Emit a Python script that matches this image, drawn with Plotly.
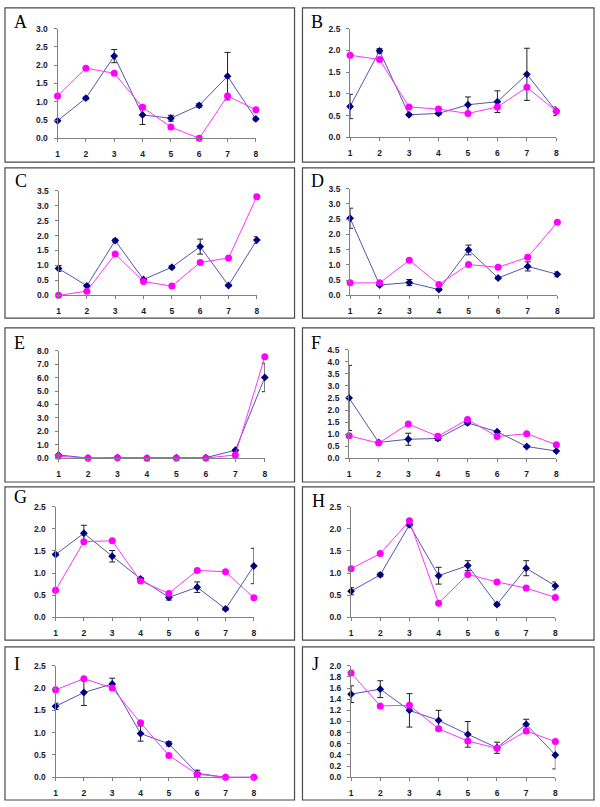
import plotly.graph_objects as go

W, H = 600, 807
categories = [1, 2, 3, 4, 5, 6, 7, 8]
panel_labels = ["A", "B", "C", "D", "E", "F", "G", "H", "I", "J"]

blue_A = [0.48, 1.10, 2.25, 0.64, 0.55, 0.90, 1.70, 0.53]
blue_A_err = [0.02, 0.03, 0.18, 0.26, 0.08, 0.05, 0.65, 0.05]
pink_A = [1.16, 1.92, 1.78, 0.85, 0.31, 0.0, 1.16, 0.78]

blue_B = [0.71, 1.99, 0.52, 0.55, 0.75, 0.82, 1.45, 0.60]
blue_B_err = [0.28, 0.05, 0.02, 0.03, 0.18, 0.25, 0.60, 0.10]
pink_B = [1.89, 1.79, 0.70, 0.65, 0.55, 0.70, 1.15, 0.60]

blue_C = [0.90, 0.32, 1.83, 0.53, 0.94, 1.63, 0.33, 1.85]
blue_C_err = [0.10, 0.03, 0.05, 0.03, 0.05, 0.25, 0.03, 0.11]
pink_C = [0.0, 0.14, 1.38, 0.46, 0.31, 1.10, 1.25, 3.30]

blue_D = [2.53, 0.34, 0.42, 0.19, 1.49, 0.57, 0.95, 0.69]
blue_D_err = [0.33, 0.03, 0.10, 0.03, 0.16, 0.03, 0.15, 0.08]
pink_D = [0.41, 0.41, 1.15, 0.36, 1.01, 0.92, 1.25, 2.40]

blue_E = [0.25, 0.02, 0.05, 0.02, 0.04, 0.05, 0.60, 6.01]
blue_E_err = [0.05, 0.01, 0.01, 0.01, 0.01, 0.01, 0.05, 1.06]
pink_E = [0.15, 0.02, 0.04, 0.01, 0.03, 0.02, 0.25, 7.55]

blue_F = [2.50, 0.66, 0.79, 0.82, 1.47, 1.10, 0.49, 0.30]
blue_F_err = [1.35, 0.03, 0.25, 0.08, 0.08, 0.03, 0.03, 0.03]
pink_F = [0.93, 0.63, 1.42, 0.91, 1.61, 0.90, 1.02, 0.56]

blue_G = [1.42, 1.90, 1.38, 0.87, 0.45, 0.68, 0.19, 1.16]
blue_G_err = [0.03, 0.18, 0.13, 0.03, 0.06, 0.12, 0.03, 0.40]
pink_G = [0.61, 1.71, 1.73, 0.82, 0.54, 1.06, 1.03, 0.44]

blue_H = [0.59, 0.96, 2.09, 0.94, 1.17, 0.29, 1.11, 0.71]
blue_H_err = [0.08, 0.04, 0.03, 0.19, 0.11, 0.03, 0.17, 0.09]
pink_H = [1.10, 1.44, 2.18, 0.32, 0.97, 0.80, 0.66, 0.45]

blue_I = [1.59, 1.90, 2.09, 0.98, 0.75, 0.09, 0.0, 0.0]
blue_I_err = [0.07, 0.29, 0.13, 0.17, 0.05, 0.07, 0.0, 0.0]
pink_I = [1.96, 2.21, 2.00, 1.22, 0.49, 0.07, 0.0, 0.0]

blue_J = [1.49, 1.58, 1.20, 1.02, 0.77, 0.53, 0.95, 0.40]
blue_J_err = [0.15, 0.15, 0.30, 0.18, 0.23, 0.10, 0.09, 0.25]
pink_J = [1.87, 1.28, 1.29, 0.87, 0.65, 0.52, 0.83, 0.64]

blue_series = [blue_A, blue_B, blue_C, blue_D, blue_E, blue_F, blue_G, blue_H, blue_I, blue_J]
blue_errors = [blue_A_err, blue_B_err, blue_C_err, blue_D_err, blue_E_err,
               blue_F_err, blue_G_err, blue_H_err, blue_I_err, blue_J_err]
pink_series = [pink_A, pink_B, pink_C, pink_D, pink_E, pink_F, pink_G, pink_H, pink_I, pink_J]
y_max = [3.0, 2.5, 3.5, 3.5, 8.0, 4.5, 2.5, 2.5, 2.5, 2.0]
y_step = [0.5, 0.5, 0.5, 0.5, 1.0, 0.5, 0.5, 0.5, 0.5, 0.2]

# plot-area pixel geometry (x0, x1, ytop, ybottom)
areas = [
    (56, 256, 24, 135), (351, 559, 24, 134),
    (57, 257, 188, 294), (351, 560, 186, 294),
    (57, 265, 350, 459), (350, 559, 349, 459),
    (54, 254, 508, 620), (352, 558, 508, 620),
    (54, 254, 669, 782), (352, 558, 669, 782),
]
# frame boxes
row_y = [(3, 159), (165, 317), (327, 483), (488, 643), (650, 805)]
col_x = [(3, 295), (303, 597)]
# letter centres
letter_pos = [(19, 17), (318, 17), (19, 178), (318, 178), (18, 342), (317, 342),
              (19, 498), (319, 502), (15, 667), (316, 667)]

fig = go.Figure()
tickfont = dict(family="Liberation Sans", size=8.5, color="#1a1a2e", weight="bold")
layout = dict(width=W, height=H, margin=dict(l=0, r=0, t=0, b=0),
              paper_bgcolor="white", plot_bgcolor="white", showlegend=False)
shapes, annotations = [], []

for i in range(10):
    n = "" if i == 0 else str(i + 1)
    x0, x1, yt, yb = areas[i]
    xa = dict(domain=[x0 / W, x1 / W], range=[1, 8], tickmode="array",
              tickvals=categories, ticktext=[str(c) for c in categories],
              showgrid=False, zeroline=False, showline=True, linecolor="#808080",
              linewidth=1, ticks="outside", ticklen=3, tickcolor="#808080",
              tickfont=tickfont, ticklabelstandoff=4, anchor="y" + n, fixedrange=True)
    ya = dict(domain=[1 - yb / H, 1 - yt / H], range=[0, y_max[i]], dtick=y_step[i],
              tick0=0, tickformat=".1f", showgrid=False, zeroline=False,
              showline=True, linecolor="#808080", linewidth=1, ticks="outside",
              ticklen=3, tickcolor="#808080", tickfont=tickfont, ticklabelstandoff=4,
              anchor="x" + n, fixedrange=True)
    layout["xaxis" + n] = xa
    layout["yaxis" + n] = ya
    fig.add_trace(go.Scatter(
        x=categories, y=blue_series[i], xaxis="x" + n, yaxis="y" + n,
        mode="lines+markers", cliponaxis=False,
        line=dict(color="#5555aa", width=1),
        marker=dict(symbol="diamond", size=6, color="#000080"),
        error_y=dict(type="data", array=blue_errors[i], visible=True,
                     color="#222222", thickness=1, width=3)))
    fig.add_trace(go.Scatter(
        x=categories, y=pink_series[i], xaxis="x" + n, yaxis="y" + n,
        mode="lines+markers", cliponaxis=False,
        line=dict(color="#ff33ff", width=1),
        marker=dict(symbol="circle", size=7, color="#ff00ff")))
    r, c = divmod(i, 2)
    bx0, bx1 = col_x[c]
    by0, by1 = row_y[r]
    shapes.append(dict(type="rect", xref="paper", yref="paper",
                       x0=bx0 / W, x1=bx1 / W, y0=1 - by1 / H, y1=1 - by0 / H,
                       line=dict(color="#4a4a4a", width=1.2), layer="below"))
    lx, ly = letter_pos[i]
    annotations.append(dict(text=panel_labels[i], xref="paper", yref="paper",
                            x=lx / W, y=1 - ly / H, xanchor="center", yanchor="middle",
                            showarrow=False,
                            font=dict(family="Liberation Serif", size=18, color="#000000")))

layout["shapes"] = shapes
layout["annotations"] = annotations
fig.update_layout(**layout)
fig.write_html("out.html", config={"displayModeBar": False},
               post_script="document.body.style.margin='0px';")
